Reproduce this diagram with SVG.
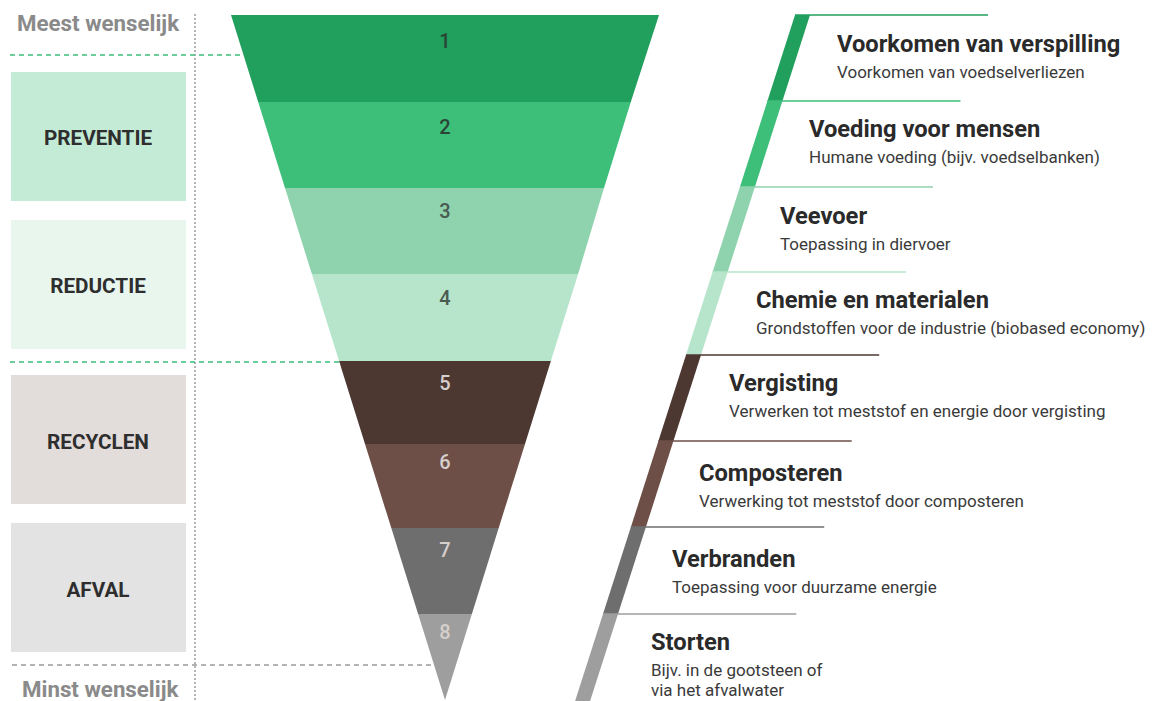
<svg xmlns="http://www.w3.org/2000/svg" width="1153" height="701" viewBox="0 0 1153 701">
<style>
  text { font-family: Roboto, "Liberation Sans", Arial, sans-serif; }
  .edge { font-size: 22.3px; font-weight: 700; fill: #8a8a8a; }
  .cat { font-size: 20.7px; font-weight: 700; fill: #2e2e2e; text-anchor: middle; }
  .num { font-size: 20px; font-weight: 500; text-anchor: middle; }
  .numd { fill: #2a4536; }
  .numm { fill: #4a5c52; }
  .numl { fill: #d6cfcc; }
  .title { font-size: 23.7px; font-weight: 700; fill: #2a2a2a; }
  .sub { font-size: 17px; font-weight: 400; fill: #3a3a3a; }
  .lead { stroke-width: 1.5; fill: none; }
  .c1 { fill: #219f5c; } .s1 { stroke: #219f5c; }
  .c2 { fill: #3dbf7a; } .s2 { stroke: #3dbf7a; }
  .c3 { fill: #8fd3ae; } .s3 { stroke: #8fd3ae; }
  .c4 { fill: #b6e5cb; } .s4 { stroke: #b6e5cb; }
  .c5 { fill: #4d3731; } .s5 { stroke: #4d3731; }
  .c6 { fill: #6d4f48; } .s6 { stroke: #6d4f48; }
  .c7 { fill: #6e6e6e; } .s7 { stroke: #6e6e6e; }
  .c8 { fill: #9e9e9e; } .s8 { stroke: #9e9e9e; }
</style>
<rect width="1153" height="701" fill="#ffffff"/>

<g id="connectors">
  <line x1="195" y1="14" x2="195" y2="701" stroke="#6a6a6a" stroke-width="1" stroke-dasharray="2,2"/>
  <line x1="10" y1="55" x2="244" y2="55" stroke="#3dbf7a" stroke-width="1.3" stroke-dasharray="5,4"/>
  <line x1="10" y1="362" x2="340" y2="362" stroke="#3dbf7a" stroke-width="1.3" stroke-dasharray="5,4"/>
  <line x1="12" y1="665" x2="433" y2="665" stroke="#9a9a9a" stroke-width="1.3" stroke-dasharray="5,4"/>
</g>

<g id="label-meest"><text class="edge" x="17" y="31">Meest wenselijk</text></g>
<g id="label-minst"><text class="edge" x="22" y="697">Minst wenselijk</text></g>

<g id="cat-preventie"><rect x="11" y="72" width="175" height="129" fill="#c4ebd6"/><text class="cat" x="98" y="145">PREVENTIE</text></g>
<g id="cat-reductie"><rect x="11" y="220" width="175" height="129" fill="#e8f6ee"/><text class="cat" x="98" y="293">REDUCTIE</text></g>
<g id="cat-recyclen"><rect x="11" y="375" width="175" height="129" fill="#e2dcda"/><text class="cat" x="98" y="449">RECYCLEN</text></g>
<g id="cat-afval"><rect x="11" y="523" width="175" height="129" fill="#e3e3e3"/><text class="cat" x="98" y="597">AFVAL</text></g>

<g id="level-1">
  <polygon class="c1" points="231,15 659,15 630.8,102 258.2,102"/>
  <text class="num numd" x="445" y="48">1</text>
  <line class="lead s1" x1="795" y1="15" x2="988" y2="15"/>
  <polygon class="c1" points="795,15 810,15 782.4,101 767.4,101"/>
  <text class="title" x="837" y="52">Voorkomen van verspilling</text>
  <text class="sub" x="837" y="78">Voorkomen van voedselverliezen</text>
</g>
<g id="level-2">
  <polygon class="c2" points="258.2,102 630.8,102 604,188 285,188"/>
  <text class="num numd" x="445" y="134">2</text>
  <line class="lead s2" x1="767.4" y1="101" x2="960.5" y2="101"/>
  <polygon class="c2" points="767.4,101 782.4,101 754.9,187 739.9,187"/>
  <text class="title" x="809" y="137">Voeding voor mensen</text>
  <text class="sub" x="809" y="163">Humane voeding (bijv. voedselbanken)</text>
</g>
<g id="level-3">
  <polygon class="c3" points="285,188 604,188 578.1,274 311.9,274"/>
  <text class="num numm" x="445" y="218">3</text>
  <line class="lead s3" x1="739.9" y1="187" x2="933" y2="187"/>
  <polygon class="c3" points="739.9,187 754.9,187 727.6,272 712.6,272"/>
  <text class="title" x="780" y="224">Veevoer</text>
  <text class="sub" x="780" y="250">Toepassing in diervoer</text>
</g>
<g id="level-4">
  <polygon class="c4" points="311.9,274 578.1,274 550.9,361 339.1,361"/>
  <text class="num numm" x="445" y="305">4</text>
  <line class="lead s4" x1="712.6" y1="272" x2="905.8" y2="272"/>
  <polygon class="c4" points="712.6,272 727.6,272 701,355 686,355"/>
  <text class="title" x="756" y="308">Chemie en materialen</text>
  <text class="sub" x="756" y="334">Grondstoffen voor de industrie (biobased economy)</text>
</g>
<g id="level-5">
  <polygon class="c5" points="339.1,361 550.9,361 525,444 365,444"/>
  <text class="num numl" x="445" y="390">5</text>
  <line class="lead s5" x1="686" y1="355" x2="879.2" y2="355"/>
  <polygon class="c5" points="686,355 701,355 673.4,441 658.4,441"/>
  <text class="title" x="729" y="391">Vergisting</text>
  <text class="sub" x="729" y="417">Verwerken tot meststof en energie door vergisting</text>
</g>
<g id="level-6">
  <polygon class="c6" points="365,444 525,444 498.7,528 391.3,528"/>
  <text class="num numl" x="445" y="469">6</text>
  <line class="lead s6" x1="658.4" y1="441" x2="851.7" y2="441"/>
  <polygon class="c6" points="658.4,441 673.4,441 645.9,527 630.9,527"/>
  <text class="title" x="699" y="481">Composteren</text>
  <text class="sub" x="699" y="507">Verwerking tot meststof door composteren</text>
</g>
<g id="level-7">
  <polygon class="c7" points="391.3,528 498.7,528 471.9,614 418.1,614"/>
  <text class="num numl" x="445" y="557">7</text>
  <line class="lead s7" x1="630.9" y1="527" x2="824.2" y2="527"/>
  <polygon class="c7" points="630.9,527 645.9,527 618,614 603,614"/>
  <text class="title" x="672" y="567">Verbranden</text>
  <text class="sub" x="672" y="593">Toepassing voor duurzame energie</text>
</g>
<g id="level-8">
  <polygon class="c8" points="418.1,614 471.9,614 445,700"/>
  <text class="num numl" x="445" y="639">8</text>
  <line class="lead s8" x1="603" y1="614" x2="796.3" y2="614"/>
  <polygon class="c8" points="603,614 618,614 590.1,701 575.1,701"/>
  <text class="title" x="651" y="650">Storten</text>
  <text class="sub" x="651" y="676">Bijv. in de gootsteen of</text>
  <text class="sub" x="651" y="696">via het afvalwater</text>
</g>
</svg>
